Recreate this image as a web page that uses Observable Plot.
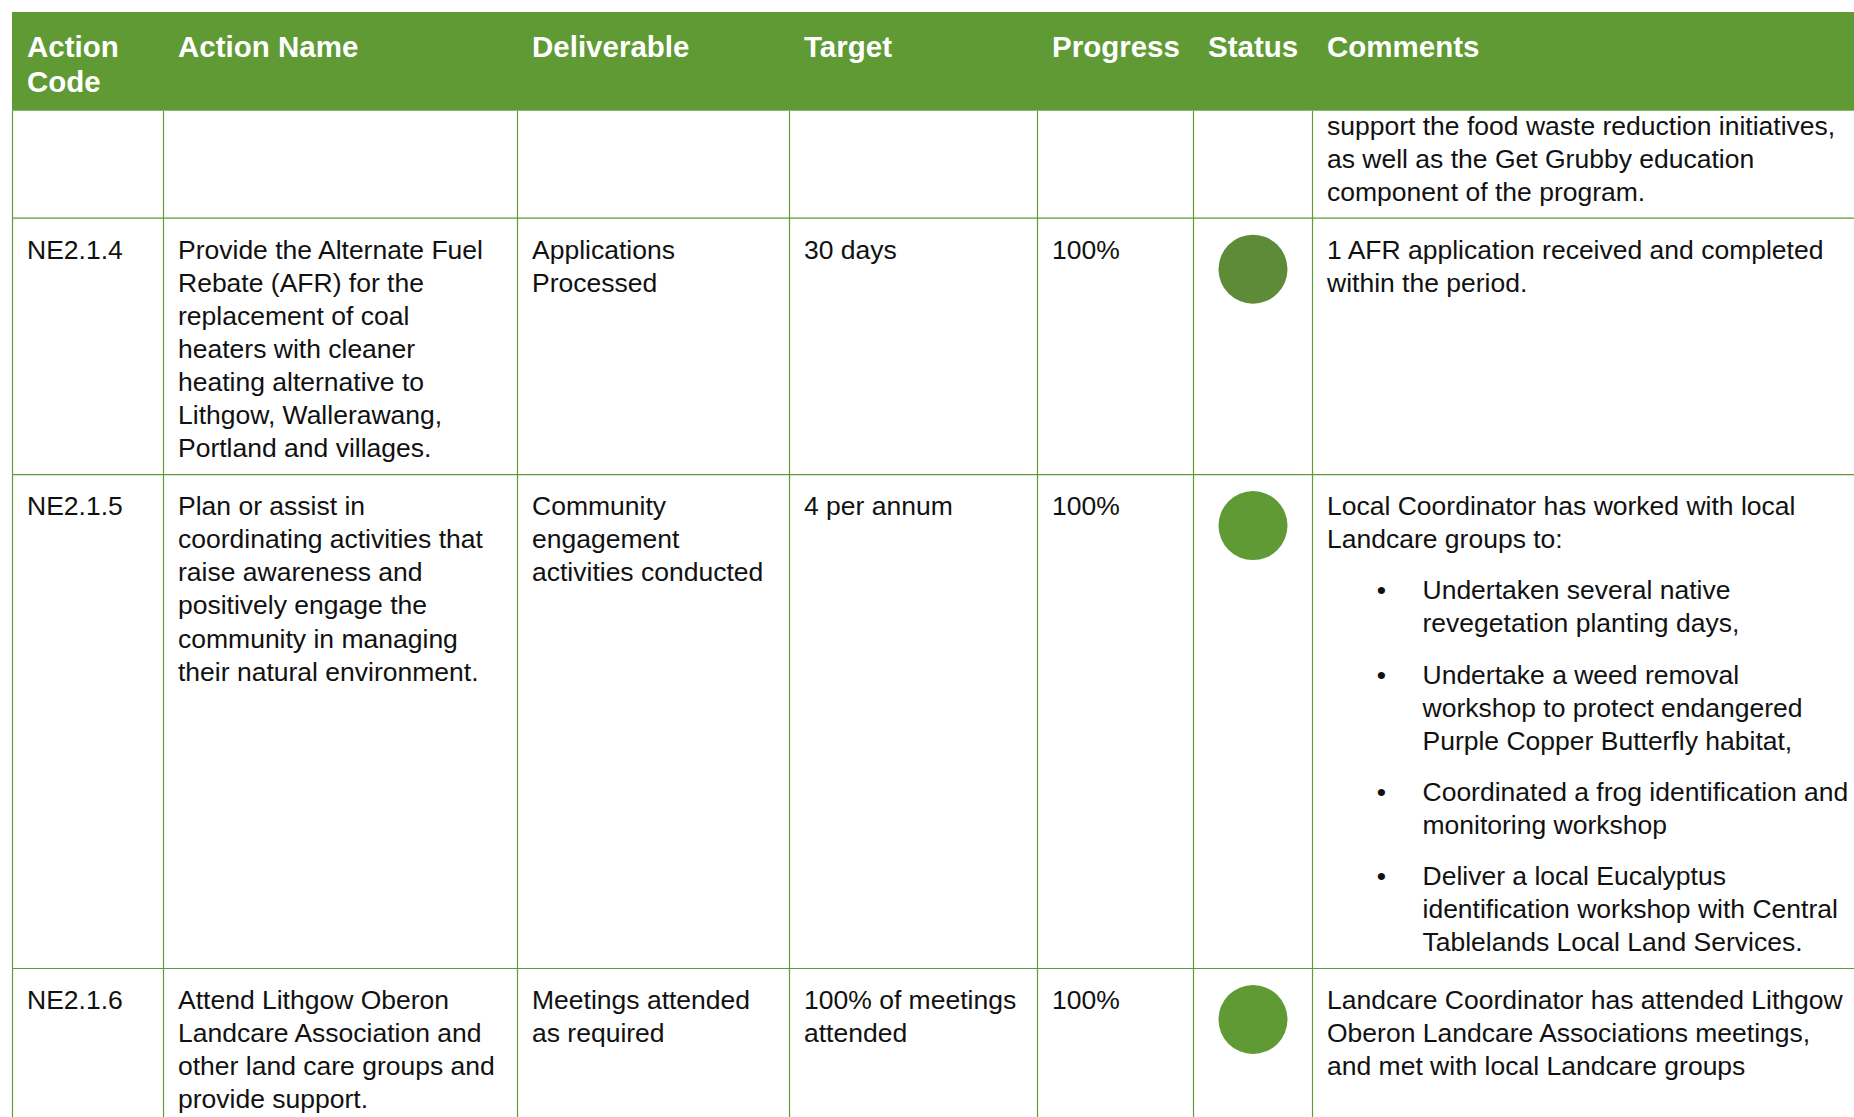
<!DOCTYPE html>
<html>
<head>
<meta charset="utf-8">
<script src="https://cdn.jsdelivr.net/npm/d3@7"></script>
<script src="https://cdn.jsdelivr.net/npm/@observablehq/plot@0.6"></script>
<style>
  html, body { margin: 0; padding: 0; background: #fff; overflow: hidden; }
  g[aria-label="cell text"] text, g[aria-label="bullet"] text { letter-spacing: 0.9px; }
</style>
</head>
<body>
<div id="chart"></div>
<script>
// ---------- DATA ----------
const headers = [["Action", "Code"], ["Action Name"], ["Deliverable"], ["Target"], ["Progress"], ["Status"], ["Comments"]];
const actionCodes = ["", "NE2.1.4", "NE2.1.5", "NE2.1.6"];
const actionNames = [
  [],
  ["Provide the Alternate Fuel", "Rebate (AFR) for the", "replacement of coal", "heaters with cleaner", "heating alternative to", "Lithgow, Wallerawang,", "Portland and villages."],
  ["Plan or assist in", "coordinating activities that", "raise awareness and", "positively engage the", "community in managing", "their natural environment."],
  ["Attend Lithgow Oberon", "Landcare Association and", "other land care groups and", "provide support."]
];
const deliverables = [
  [],
  ["Applications", "Processed"],
  ["Community", "engagement", "activities conducted"],
  ["Meetings attended", "as required"]
];
const targets = [
  [],
  ["30 days"],
  ["4 per annum"],
  ["100% of meetings", "attended"]
];
const progressValues = [null, 100, 100, 100];
const statuses = [null, "Completed", "On track", "On track"];
const comments = [
  [["support the food waste reduction initiatives,", "as well as the Get Grubby education", "component of the program."]],
  [["1 AFR application received and completed", "within the period."]],
  [
    ["Local Coordinator has worked with local", "Landcare groups to:"],
    ["• Undertaken several native", "revegetation planting days,"],
    ["• Undertake a weed removal", "workshop to protect endangered", "Purple Copper Butterfly habitat,"],
    ["• Coordinated a frog identification and", "monitoring workshop"],
    ["• Deliver a local Eucalyptus", "identification workshop with Central", "Tablelands Local Land Services."]
  ],
  [["Landcare Coordinator has attended Lithgow", "Oberon Landcare Associations meetings,", "and met with local Landcare groups"]]
];
const continuedRows = [true, false, false, false];
const statusNames = ["Completed", "On track"];

// ---------- LAYOUT ----------
const W = 1854, H = 1117;
const colEdges = [12, 163, 517, 789, 1037, 1193, 1312, W];
const textPad = 14.5;
const headerTop = 12, headerBottom = 110.7, headerFirstBase = 44.7, headerLineH = 35;
const lineH = 33.1, paraGap = 18, padTop = 17, ascent = 23.5, padBottom = 17.3;
const bulletOffset = 69, bulletTextOffset = 110;
const dotOffset = 51, dotR = 34.5;
const green = "#5f9a35";
const font = "'Liberation Sans', Arial, Helvetica, sans-serif";

const headerData = [];
headers.forEach((lines, c) => lines.forEach((s, i) => {
  headerData.push({x: colEdges[c] + textPad, y: headerTop + headerFirstBase + i * headerLineH, text: s});
}));

const textData = [], bulletData = [], dotData = [], hLines = [];
let rowTop = headerBottom;
actionCodes.forEach((code, r) => {
  const first = rowTop + (continuedRows[r] ? 0 : padTop) + ascent;
  let last = first;
  const simpleCols = [
    code ? [code] : [],
    actionNames[r],
    deliverables[r],
    targets[r],
    progressValues[r] == null ? [] : [progressValues[r] + "%"]
  ];
  simpleCols.forEach((lines, c) => lines.forEach((s, i) => {
    const y = first + i * lineH;
    textData.push({x: colEdges[c] + textPad, y, text: s});
    last = Math.max(last, y);
  }));
  let y = first;
  comments[r].forEach((para, pi) => {
    if (pi > 0) y += paraGap;
    const isBullet = para[0].startsWith("• ");
    para.forEach((s, i) => {
      let t = s;
      if (isBullet && i === 0) {
        bulletData.push({x: colEdges[6] + bulletOffset, y, text: "•"});
        t = s.slice(2);
      }
      textData.push({x: colEdges[6] + (isBullet ? bulletTextOffset : textPad), y, text: t});
      last = Math.max(last, y);
      y += lineH;
    });
  });
  if (statuses[r]) dotData.push({x: (colEdges[5] + colEdges[6]) / 2, y: rowTop + dotOffset, status: statuses[r]});
  const bottom = last + padBottom;
  if (bottom < H) hLines.push({y: bottom, x1: colEdges[0], x2: W});
  rowTop = bottom;
});

const vLines = colEdges.slice(0, 7).map(x => ({x, y1: headerBottom, y2: H}));
const headerRect = [{x1: colEdges[0], x2: W, y1: headerTop, y2: headerBottom}];

const chart = Plot.plot({
  width: W,
  height: H,
  margin: 0,
  x: {domain: [0, W], range: [0, W], axis: null},
  y: {domain: [0, H], range: [0, H], axis: null},
  color: {domain: statusNames, range: ["#5e8b37", "#5f9a35"]},
  marks: [
    Plot.rect(headerRect, {x1: "x1", x2: "x2", y1: "y1", y2: "y2", fill: green}),
    Plot.ruleX(vLines, {x: "x", y1: "y1", y2: "y2", stroke: green, strokeWidth: 1.2}),
    Plot.ruleY(hLines, {y: "y", x1: "x1", x2: "x2", stroke: green, strokeWidth: 1.2}),
    Plot.text(headerData, {x: "x", y: "y", text: "text", fill: "white", fontWeight: "bold", fontSize: 29.5,
      fontFamily: font, textAnchor: "start", lineAnchor: "bottom"}),
    Plot.text(textData, {x: "x", y: "y", text: "text", fill: "#111", fontSize: 26.5,
      fontFamily: font, textAnchor: "start", lineAnchor: "bottom", ariaLabel: "cell text"}),
    Plot.text(bulletData, {x: "x", y: "y", text: "text", fill: "#111", fontSize: 26.5,
      fontFamily: font, textAnchor: "middle", lineAnchor: "bottom", ariaLabel: "bullet"}),
    Plot.dot(dotData, {x: "x", y: "y", r: dotR, fill: "status", stroke: null})
  ]
});
document.getElementById("chart").appendChild(chart);
</script>
</body>
</html>
